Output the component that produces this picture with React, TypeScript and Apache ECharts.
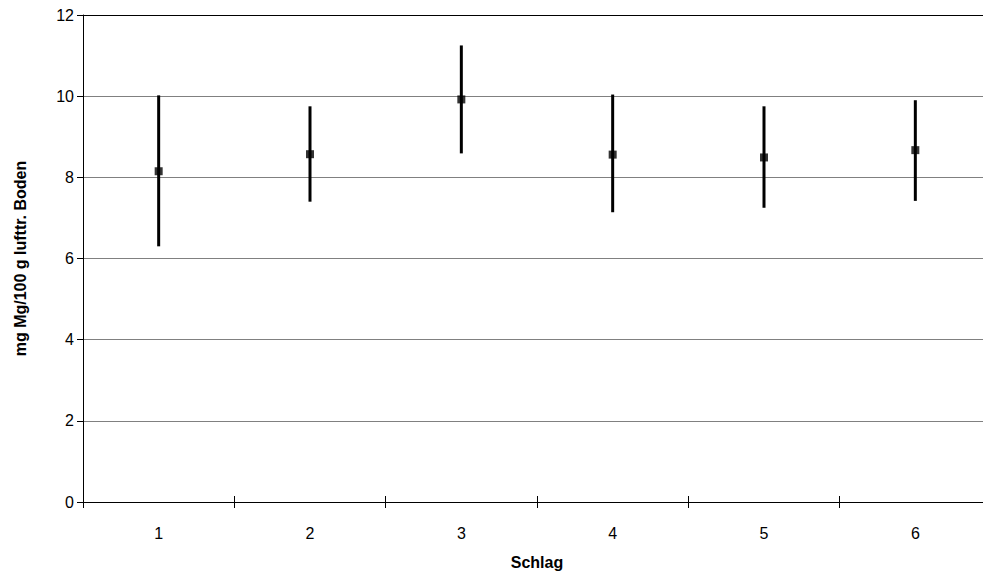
import React, { useEffect, useRef } from "react";
import * as echarts from "echarts";

const categories = ["1", "2", "3", "4", "5", "6"];
const means = [8.15, 8.57, 9.92, 8.56, 8.49, 8.67];
const lows = [6.3, 7.4, 8.59, 7.14, 7.25, 7.42];
const highs = [10.02, 9.75, 11.25, 10.04, 9.75, 9.9];

const FONT = "Liberation Sans, Arial, sans-serif";

export default function App() {
  const ref = useRef<HTMLDivElement>(null);
  useEffect(() => {
    document.body.style.margin = "0";
    const chart = echarts.init(ref.current!, undefined, { renderer: "svg" });
    const errData = categories.map((_, i) => [i, lows[i], highs[i]]);
    chart.setOption({
      animation: false,
      backgroundColor: "#ffffff",
      grid: { left: 83, top: 15, width: 908, height: 487, containLabel: false },
      xAxis: [
        {
          type: "category",
          data: categories,
          position: "bottom",
          boundaryGap: true,
          name: "Schlag",
          nameLocation: "middle",
          nameGap: 52,
          nameTextStyle: { fontFamily: FONT, fontSize: 16, fontWeight: "bold", color: "#000" },
          axisLine: { show: true, lineStyle: { color: "#000", width: 1 } },
          axisTick: { show: true, length: 6, alignWithLabel: false, lineStyle: { color: "#000" } },
          axisLabel: { fontFamily: FONT, fontSize: 16, color: "#000", margin: 23 },
          splitLine: { show: false },
        },
        {
          type: "category",
          data: categories,
          position: "bottom",
          boundaryGap: true,
          axisLine: { show: false },
          axisTick: { show: true, inside: true, length: 6, alignWithLabel: false, lineStyle: { color: "#000" } },
          axisLabel: { show: false },
          splitLine: { show: false },
        },
        {
          type: "category",
          data: categories,
          position: "top",
          axisLine: { show: true, lineStyle: { color: "#000", width: 1 } },
          axisTick: { show: false },
          axisLabel: { show: false },
          splitLine: { show: false },
        },
      ],
      yAxis: {
        type: "value",
        min: 0,
        max: 12,
        interval: 2,
        name: "mg Mg/100 g lufttr. Boden",
        nameLocation: "middle",
        nameGap: 55,
        nameTextStyle: { fontFamily: FONT, fontSize: 16, fontWeight: "bold", color: "#000" },
        axisLine: { show: true, lineStyle: { color: "#000", width: 1 } },
        axisTick: { show: true, length: 6, lineStyle: { color: "#000" } },
        axisLabel: { fontFamily: FONT, fontSize: 16, color: "#000", margin: 9 },
        splitLine: { show: true, lineStyle: { color: "#808080", width: 1 } },
      },
      series: [
        {
          type: "custom",
          xAxisIndex: 0,
          data: errData,
          renderItem: (params: any, api: any) => {
            const x = api.value(0);
            const lo = api.coord([x, api.value(1)]);
            const hi = api.coord([x, api.value(2)]);
            return {
              type: "line",
              shape: { x1: lo[0], y1: lo[1], x2: hi[0], y2: hi[1] },
              style: { stroke: "#000", lineWidth: 3 },
            };
          },
          z: 3,
        },
        {
          type: "scatter",
          xAxisIndex: 0,
          data: means,
          symbol: "rect",
          symbolSize: 8,
          itemStyle: { color: "#000" },
          z: 4,
        },
      ],
    });
    return () => chart.dispose();
  }, []);
  return (
    <div style={{ width: 983, height: 577, overflow: "hidden" }}>
      <div ref={ref} style={{ width: 1000, height: 577 }} />
    </div>
  );
}
